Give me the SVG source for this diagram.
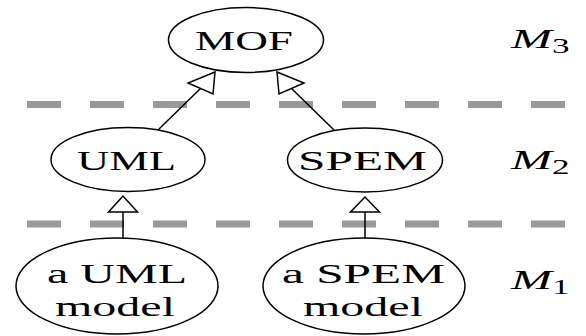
<svg xmlns="http://www.w3.org/2000/svg" width="586" height="336" viewBox="0 0 586 336">
  <style>
    .node { fill: #fff; stroke: #000; stroke-width: 1.5; }
    .lbl { font-family: "Liberation Serif", "DejaVu Serif", serif; font-size: 27px; fill: #000; text-anchor: middle; }
    .lvl { font-family: "Liberation Serif", "DejaVu Serif", serif; font-size: 28px; font-style: italic; fill: #000; }
    .sub { font-size: 20px; font-style: normal; }
    .sep { stroke: #999; stroke-width: 7; stroke-dasharray: 34 29; fill: none; }
    .edge { stroke: #000; stroke-width: 1.5; fill: none; }
    .head { fill: #fff; stroke: #000; stroke-width: 1.5; stroke-linejoin: miter; }
  </style>
  <rect width="586" height="336" fill="#fff"/>

  <g id="separators">
    <line class="sep" x1="27" y1="104.5" x2="565" y2="104.5"/>
    <line class="sep" x1="27" y1="224" x2="565" y2="224"/>
  </g>

  <g id="mof">
    <ellipse class="node" cx="246" cy="40" rx="77.5" ry="32.5"/>
    <text class="lbl" x="244" y="50" textLength="98" lengthAdjust="spacingAndGlyphs">MOF</text>
  </g>
  <g id="uml">
    <ellipse class="node" cx="128" cy="159.5" rx="77" ry="32"/>
    <text class="lbl" x="126.5" y="170" textLength="99" lengthAdjust="spacingAndGlyphs">UML</text>
  </g>
  <g id="spem">
    <ellipse class="node" cx="365" cy="160" rx="77.5" ry="32"/>
    <text class="lbl" x="362.5" y="169.5" textLength="129" lengthAdjust="spacingAndGlyphs">SPEM</text>
  </g>
  <g id="uml-model">
    <ellipse class="node" cx="117" cy="286" rx="101" ry="48"/>
    <text class="lbl" x="117" y="283" textLength="140" lengthAdjust="spacingAndGlyphs">a UML</text>
    <text class="lbl" x="115" y="316" textLength="120" lengthAdjust="spacingAndGlyphs">model</text>
  </g>
  <g id="spem-model">
    <ellipse class="node" cx="364" cy="286" rx="101" ry="48"/>
    <text class="lbl" x="363.5" y="283" textLength="163" lengthAdjust="spacingAndGlyphs">a SPEM</text>
    <text class="lbl" x="363" y="316" textLength="120" lengthAdjust="spacingAndGlyphs">model</text>
  </g>

  <g id="connectors">
    <line class="edge" x1="158" y1="130" x2="200.5" y2="88.5"/>
    <polygon class="head" points="215,72 188,83 213,94"/>
    <line class="edge" x1="334" y1="130" x2="291.5" y2="88.5"/>
    <polygon class="head" points="277,72 304,83 279,94"/>
    <line class="edge" x1="123" y1="238" x2="123" y2="212"/>
    <polygon class="head" points="123,196 108.5,212 137.5,212"/>
    <line class="edge" x1="365" y1="238" x2="365" y2="212"/>
    <polygon class="head" points="365,197 350.5,212 379.5,212"/>
  </g>

  <g id="levels">
    <text class="lvl" transform="translate(511 48) scale(1.76 1)">M<tspan class="sub" dy="5">3</tspan></text>
    <text class="lvl" transform="translate(511 169) scale(1.76 1)">M<tspan class="sub" dy="5">2</tspan></text>
    <text class="lvl" transform="translate(511 289) scale(1.76 1)">M<tspan class="sub" dy="5">1</tspan></text>
  </g>
</svg>
